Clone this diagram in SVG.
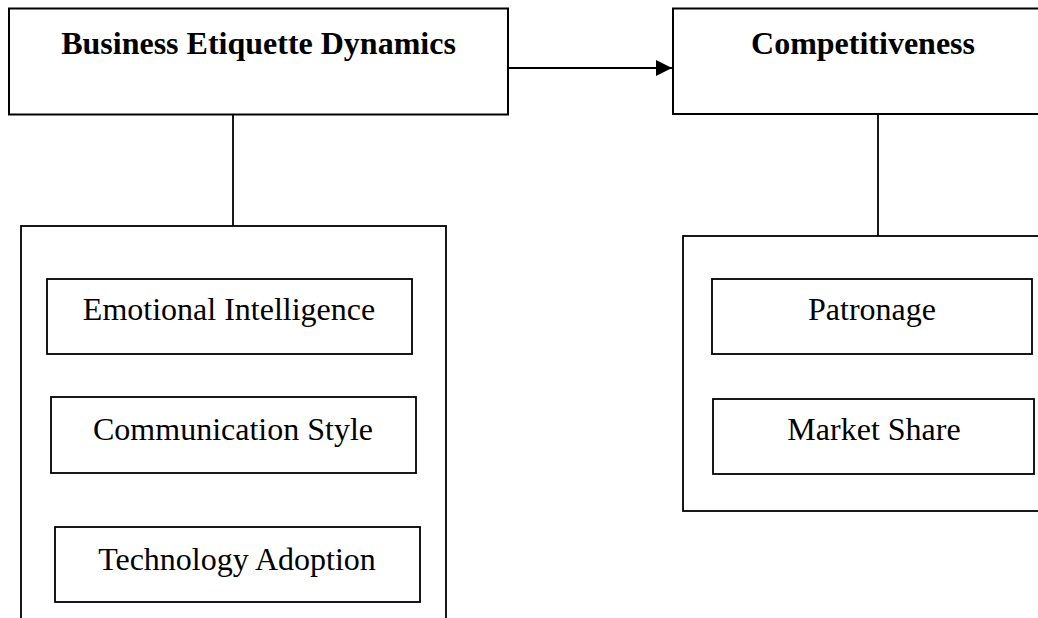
<svg xmlns="http://www.w3.org/2000/svg" width="1038" height="618" viewBox="0 0 1038 618">
  <style>
    .box { fill: #ffffff; stroke: #000000; stroke-width: 1.8; }
    .head { fill: #ffffff; stroke: #000000; stroke-width: 2; }
    .ht { font-family: "Liberation Serif", "Times New Roman", serif; font-size: 32px; font-weight: bold; fill: #000; text-anchor: middle; }
    .t { font-family: "Liberation Serif", "Times New Roman", serif; font-size: 32px; fill: #000; text-anchor: middle; }
    .line { stroke: #000000; stroke-width: 1.8; fill: none; }
    .arrow { stroke: #000000; stroke-width: 2.2; fill: none; }
  </style>
  <defs>
    <marker id="ah" markerWidth="18" markerHeight="18" refX="16" refY="8" orient="auto" markerUnits="userSpaceOnUse">
      <path d="M0,0 L16,8 L0,16 Z" fill="#000"/>
    </marker>
  </defs>
  <rect width="1038" height="618" fill="#ffffff"/>

  <g id="connectors">
    <line class="arrow" x1="508" y1="68" x2="672" y2="68" marker-end="url(#ah)"/>
    <line class="line" x1="233" y1="115" x2="233" y2="226"/>
    <line class="line" x1="878" y1="114" x2="878" y2="236"/>
  </g>

  <g id="business-etiquette-dynamics">
    <rect class="head" x="9" y="8.5" width="499" height="106"/>
    <text class="ht" x="258.5" y="54">Business Etiquette Dynamics</text>
  </g>

  <g id="competitiveness">
    <rect class="head" x="673" y="8.5" width="380" height="105.5"/>
    <text class="ht" x="863" y="54">Competitiveness</text>
  </g>

  <g id="etiquette-group">
    <rect class="box" x="21" y="226" width="425" height="420"/>
  </g>

  <g id="emotional-intelligence">
    <rect class="box" x="47" y="279" width="365" height="75"/>
    <text class="t" x="229" y="320">Emotional Intelligence</text>
  </g>

  <g id="communication-style">
    <rect class="box" x="51" y="397" width="365" height="76"/>
    <text class="t" x="233" y="440">Communication Style</text>
  </g>

  <g id="technology-adoption">
    <rect class="box" x="55" y="527" width="365" height="75"/>
    <text class="t" x="237" y="570">Technology Adoption</text>
  </g>

  <g id="competitiveness-group">
    <rect class="box" x="683" y="236" width="380" height="275"/>
  </g>

  <g id="patronage">
    <rect class="box" x="712" y="279" width="320" height="75"/>
    <text class="t" x="872" y="320">Patronage</text>
  </g>

  <g id="market-share">
    <rect class="box" x="713" y="399" width="321" height="75"/>
    <text class="t" x="874" y="440">Market Share</text>
  </g>
</svg>
